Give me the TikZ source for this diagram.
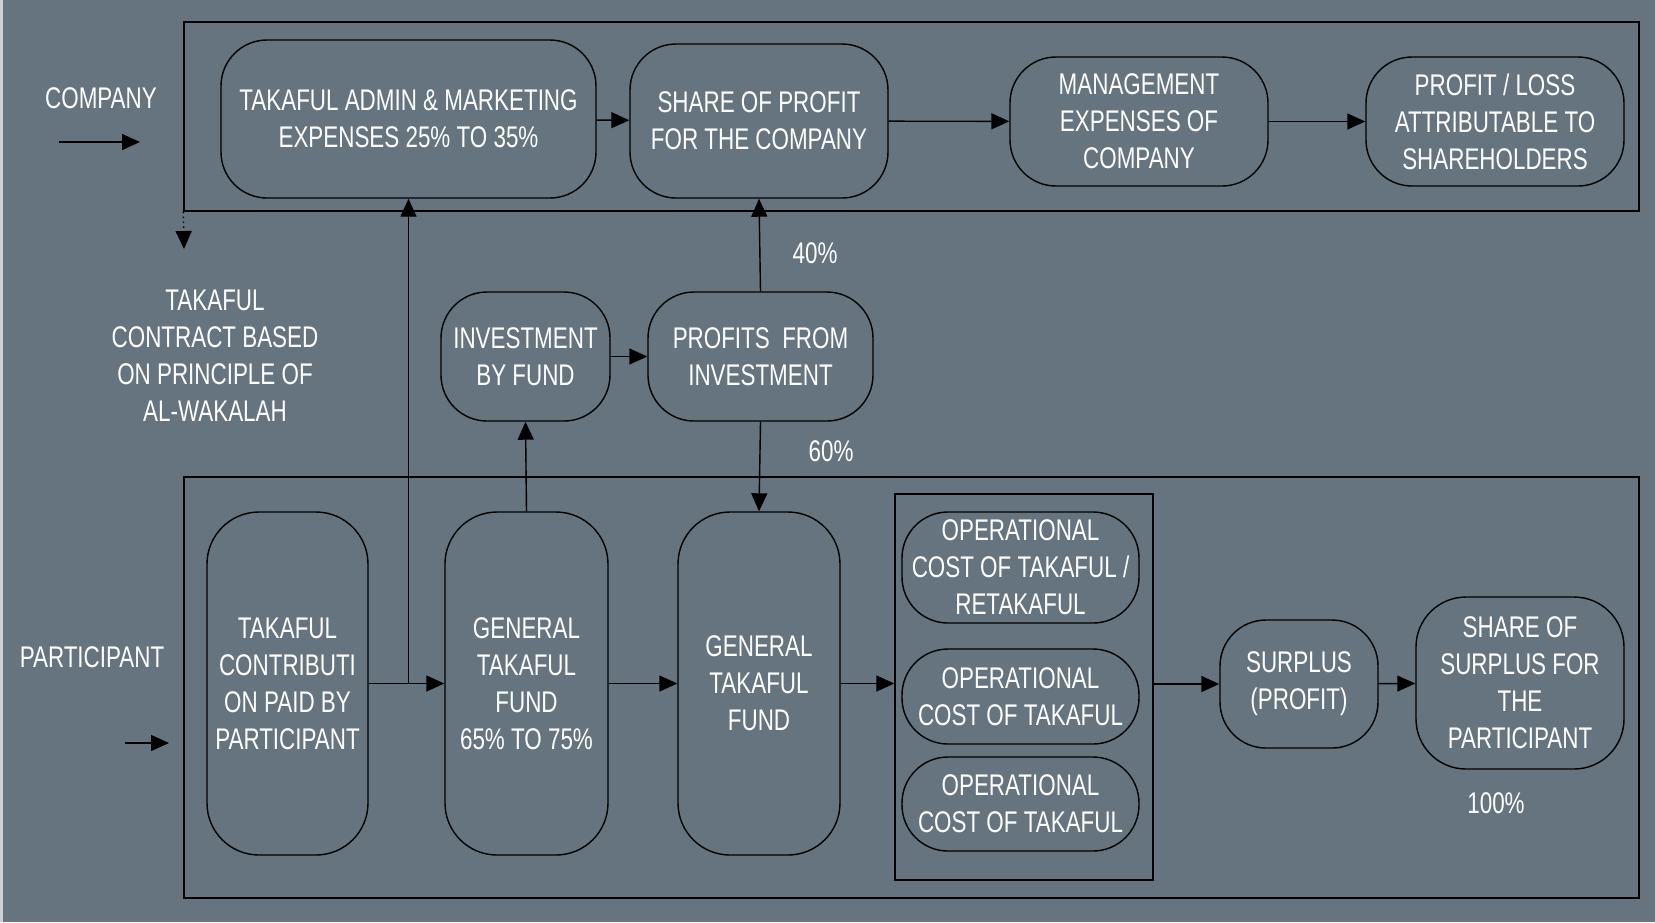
\documentclass[tikz,border=0pt]{standalone}
\usepackage{fontspec}
\setmainfont[FakeStretch=0.75]{Liberation Sans}
\usetikzlibrary{arrows.meta}
\definecolor{slateBg}{RGB}{101,116,126}
\definecolor{edgeStrip}{RGB}{205,210,213}
\tikzstyle{flowNode}=[draw, rounded corners=4.6mm, align=center, inner sep=0pt, text=white, font=\fontsize{8.5}{10.5}\selectfont]
\tikzstyle{plainLabel}=[align=center, inner sep=0pt, text=white, font=\fontsize{8.5}{10.5}\selectfont]
\tikzstyle{groupBox}=[draw, inner sep=0pt]
\tikzstyle{flowArrow}=[-{Triangle[length=1.8mm,width=1.6mm]}]

\begin{document}
\begin{tikzpicture}[x=0.1mm, y=-0.1mm]
	\fill[slateBg] (0,0) rectangle (1655,922);
	\fill[edgeStrip] (0,0) rectangle (3,922);
	\useasboundingbox (0,0) rectangle (1655,922);
	
	% group frames
	\node[groupBox, minimum width=145.5mm, minimum height=18.9mm] (company) at (911.5,116.5) {};
	\node[groupBox, minimum width=145.5mm, minimum height=42.1mm] (participant) at (911.5,687.5) {};
	\node[groupBox, minimum width=25.8mm, minimum height=38.6mm] (opBox) at (1024,687) {};
	
	% company row
	\node[flowNode, minimum width=37.5mm, minimum height=15.8mm] (admin) at (408.5,119) {TAKAFUL ADMIN \& MARKETING\\EXPENSES 25\% TO 35\%};
	\node[flowNode, minimum width=25.8mm, minimum height=15.4mm] (share) at (759,121) {SHARE OF PROFIT\\FOR THE COMPANY};
	\node[flowNode, minimum width=25.8mm, minimum height=12.9mm] (mgmt) at (1139,121.5) {MANAGEMENT\\EXPENSES OF\\COMPANY};
	\node[flowNode, minimum width=25.8mm, minimum height=12.9mm] (profitLoss) at (1495,121.5) {PROFIT / LOSS\\ATTRIBUTABLE TO\\SHAREHOLDERS};
	
	% investment
	\node[flowNode, minimum width=16.9mm, minimum height=12.9mm] (inv) at (525.5,356.5) {INVESTMENT\\BY FUND};
	\node[flowNode, minimum width=22.5mm, minimum height=12.9mm] (prof) at (760.5,356.5) {PROFITS\ \ FROM\\INVESTMENT};
	
	% participant row
	\node[flowNode, rounded corners=5.2mm, minimum width=16.1mm, minimum height=34.3mm] (contrib) at (287.5,683.5) {TAKAFUL\\CONTRIBUTI\\ON PAID BY\\PARTICIPANT};
	\node[flowNode, rounded corners=5.2mm, minimum width=16.3mm, minimum height=34.3mm] (genFund65) at (526.5,683.5) {GENERAL\\TAKAFUL\\FUND\\65\% TO 75\%};
	\node[flowNode, rounded corners=5.2mm, minimum width=16.2mm, minimum height=34.3mm] (genFund) at (759,683.5) {GENERAL\\TAKAFUL\\FUND};
	\node[flowNode, minimum width=23.7mm, minimum height=11.1mm] (op1) at (1020.5,567.5) {OPERATIONAL\\COST OF TAKAFUL /\\RETAKAFUL};
	\node[flowNode, minimum width=23.7mm, minimum height=9.5mm] (op2) at (1020.5,696.5) {OPERATIONAL\\COST OF TAKAFUL};
	\node[flowNode, minimum width=23.7mm, minimum height=9.4mm] (op3) at (1020.5,804) {OPERATIONAL\\COST OF TAKAFUL};
	\node[flowNode, minimum width=15.8mm, minimum height=12.8mm] (surplus) at (1299,684) {SURPLUS\\(PROFIT)};
	\node[flowNode, rounded corners=5mm, minimum width=20.8mm, minimum height=17.2mm] (shareSurplus) at (1520,683) {SHARE OF\\SURPLUS FOR\\THE\\PARTICIPANT};
	
	% side labels
	\node[plainLabel] (companyLabel) at (101,98) {COMPANY};
	\node[plainLabel] (contractLabel) at (215,356) {TAKAFUL\\CONTRACT BASED\\ON PRINCIPLE OF\\AL-WAKALAH};
	\node[plainLabel] (participantLabel) at (92,657) {PARTICIPANT};
	\node[plainLabel] (pct40) at (815,253) {40\%};
	\node[plainLabel] (pct60) at (831,451) {60\%};
	\node[plainLabel] (pct100) at (1496,803) {100\%};
	
	\coordinate (companyIn) at (59,142);
	\coordinate (companyOut) at (140,142);
	\coordinate (participantIn) at (125,743);
	\coordinate (participantOut) at (169,743);
	\coordinate (contractTip) at (184,249);
	
	\draw[flowArrow] (companyIn) -- (companyOut);
	\draw[flowArrow] (participantIn) -- (participantOut);
	\draw[flowArrow, densely dotted] (company.south west) -- (contractTip);
	
	\draw[flowArrow] (admin) -- (share);
	\draw[flowArrow] (share) -- (mgmt);
	\draw[flowArrow] (mgmt) -- (profitLoss);
	
	\draw[flowArrow] (inv) -- (prof);
	\draw[flowArrow] (prof.north) -- (share.south);
	\draw[flowArrow] (prof.south) -- (genFund.north);
	\draw[flowArrow] (genFund65.north) -- (inv.south);
	
	\draw[flowArrow] (contrib) -- (genFund65);
	\draw[flowArrow] (admin.south |- contrib.east) -- (admin.south);
	\draw[flowArrow] (genFund65) -- (genFund);
	\draw[flowArrow] (genFund.east) -- (genFund.east -| opBox.west);
	\draw[flowArrow] (opBox.east |- surplus.west) -- (surplus.west);
	\draw[flowArrow] (surplus) -- (shareSurplus);
\end{tikzpicture}
\end{document}
